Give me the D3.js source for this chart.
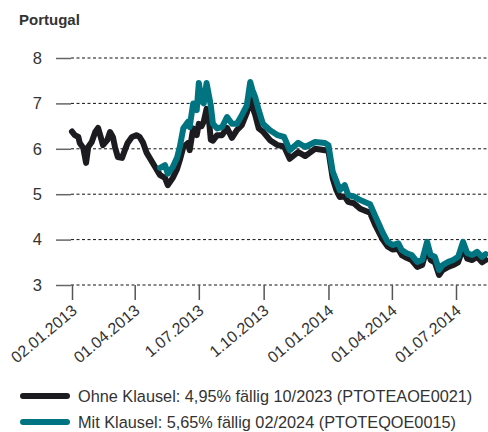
<!DOCTYPE html>
<html>
<head>
<meta charset="utf-8">
<script src="https://cdn.jsdelivr.net/npm/d3@7"></script>
<style>
  body { margin: 0; background: #fff; }
  text { font-family: "Liberation Sans", Arial, sans-serif; fill: #333; }
</style>
</head>
<body>
<script>
// Rendite in %, Ohne Klausel vs. Mit Klausel
const dates = [
  '2013-01-02', '2013-01-06', '2013-01-11', '2013-01-13', '2013-01-18', '2013-01-22',
  '2013-01-25', '2013-01-30', '2013-02-04', '2013-02-08', '2013-02-11', '2013-02-15',
  '2013-02-21', '2013-02-25', '2013-03-01', '2013-03-04', '2013-03-08', '2013-03-14',
  '2013-03-18', '2013-03-22', '2013-03-28', '2013-04-04', '2013-04-08', '2013-04-13',
  '2013-04-18', '2013-04-23', '2013-04-30', '2013-05-07', '2013-05-14', '2013-05-18',
  '2013-05-25', '2013-05-31', '2013-06-04', '2013-06-09', '2013-06-16', '2013-06-18',
  '2013-06-23', '2013-06-28', '2013-07-01', '2013-07-05', '2013-07-08', '2013-07-12',
  '2013-07-15', '2013-07-18', '2013-07-21', '2013-07-27', '2013-08-03', '2013-08-10',
  '2013-08-17', '2013-08-24', '2013-08-31', '2013-09-07', '2013-09-12', '2013-09-15',
  '2013-09-19', '2013-09-24', '2013-09-30', '2013-10-10', '2013-10-21', '2013-10-30',
  '2013-11-07', '2013-11-19', '2013-11-29', '2013-12-13', '2013-12-27', '2014-01-01',
  '2014-01-07', '2014-01-12', '2014-01-17', '2014-01-24', '2014-01-29', '2014-02-06',
  '2014-02-15', '2014-03-01', '2014-03-09', '2014-03-19', '2014-03-26', '2014-04-02',
  '2014-04-10', '2014-04-15', '2014-04-22', '2014-04-29', '2014-05-07', '2014-05-14',
  '2014-05-21', '2014-05-26', '2014-06-01', '2014-06-07', '2014-06-12', '2014-06-20',
  '2014-06-27', '2014-07-04', '2014-07-11', '2014-07-17', '2014-07-24', '2014-07-31',
  '2014-08-07', '2014-08-12'
];

const ohneKlausel = [
  6.38, 6.30, 6.26, 6.13, 6.02, 5.69,
  6.04, 6.15, 6.37, 6.46, 6.30, 6.08,
  6.19, 6.37, 6.26, 6.04, 5.82, 5.80,
  5.97, 6.13, 6.26, 6.30, 6.26, 6.13,
  5.91, 5.78, 5.60, 5.42, 5.36, 5.20,
  5.36, 5.55, 5.75, 6.04, 6.13, 5.97,
  6.45, 6.30, 6.55, 6.50, 6.60, 6.88,
  6.70, 6.20, 6.18, 6.30, 6.30, 6.46,
  6.24, 6.41, 6.52, 6.79, 7.10, 6.92,
  6.75, 6.45, 6.38, 6.19, 6.08, 6.05,
  5.78, 5.93, 5.84, 6.00, 5.97, 5.95,
  5.35, 5.10, 4.94, 4.95, 4.83, 4.80,
  4.68, 4.59, 4.30, 4.00, 3.85, 3.78,
  3.80, 3.66, 3.60, 3.55, 3.40, 3.44,
  3.82, 3.55, 3.50, 3.22, 3.33, 3.40,
  3.44, 3.50, 3.82, 3.58, 3.55, 3.62,
  3.50, 3.55
];

const mitKlausel = [
  null, null, null, null, null, null,
  null, null, null, null, null, null,
  null, null, null, null, null, null,
  null, null, null, null, null, null,
  null, null, null, 5.58, 5.64, 5.45,
  5.60, 5.80, 6.04, 6.45, 6.60, 6.48,
  7.00, 6.85, 7.45, 7.05, 7.00, 7.45,
  7.20, 6.95, 6.55, 6.45, 6.48, 6.70,
  6.55, 6.55, 6.74, 6.95, 7.47, 7.30,
  7.14, 6.85, 6.55, 6.41, 6.30, 6.26,
  5.97, 6.13, 6.04, 6.15, 6.13, 6.08,
  5.50, 5.30, 5.09, 5.20, 4.98, 4.95,
  4.87, 4.78, 4.50, 4.15, 3.95, 3.88,
  3.92, 3.77, 3.70, 3.66, 3.51, 3.55,
  3.95, 3.66, 3.62, 3.33, 3.44, 3.51,
  3.55, 3.62, 3.95, 3.70, 3.66, 3.73,
  3.62, 3.68
];

const yTicks = [3, 4, 5, 6, 7, 8];
const xTicks = ['2013-01-02', '2013-04-01', '2013-07-01', '2013-10-01', '2014-01-01', '2014-04-01', '2014-07-01'];
const xTickLabels = ['02.01.2013', '01.04.2013', '1.07.2013', '1.10.2013', '01.01.2014', '01.04.2014', '01.07.2014'];

const seriesNames = [
  'Ohne Klausel: 4,95% fällig 10/2023 (PTOTEAOE0021)',
  'Mit Klausel: 5,65% fällig 02/2024 (PTOTEQOE0015)'
];
const colors = ['#1c1b20', '#007480'];

const width = 488;
const height = 432;
const margin = { top: 58, right: 0, bottom: 147, left: 71 };

const parse = d3.timeParse('%Y-%m-%d');

const svg = d3.select('body').append('svg')
    .attr('width', width)
    .attr('height', height);

svg.append('text')
    .attr('x', 19)
    .attr('y', 25)
    .style('font-weight', 'bold')
    .style('font-size', '15px')
    .text('Portugal');

const x = d3.scaleTime()
  .domain([parse('2013-01-02'), parse('2014-07-01')])
  .range([margin.left + 1, 456]);

const y = d3.scaleLinear()
  .domain([3, 8])
  .range([height - margin.bottom, margin.top]);

// gridlines
svg.append('g')
  .selectAll('line')
  .data(yTicks)
  .join('line')
    .attr('x1', margin.left)
    .attr('x2', width)
    .attr('y1', d => y(d))
    .attr('y2', d => y(d))
    .attr('stroke', '#111')
    .attr('stroke-width', 1)
    .attr('stroke-dasharray', '3,2.5');

// y axis
const yAxis = d3.axisLeft(y)
  .tickValues(yTicks)
  .tickFormat(d3.format('d'))
  .tickSize(15)
  .tickPadding(14);

svg.append('g')
    .attr('transform', `translate(${margin.left}, 0)`)
    .call(yAxis)
    .call(g => g.select('.domain').remove())
    .call(g => g.selectAll('.tick line').attr('stroke', '#666').attr('stroke-width', 1.5))
    .call(g => g.selectAll('.tick text')
      .style('font-size', '16.5px')
      .style('font-family', '"Liberation Sans", Arial, sans-serif')
      .attr('fill', '#333'));

// x axis
const xAxis = d3.axisBottom(x)
  .tickValues(xTicks.map(parse))
  .tickSize(15)
  .tickFormat((d, i) => xTickLabels[i]);

svg.append('g')
    .attr('transform', `translate(0, ${y(3)})`)
    .call(xAxis)
    .call(g => g.select('.domain').remove())
    .call(g => g.selectAll('.tick line').attr('stroke', '#555').attr('stroke-width', 1.5))
    .call(g => g.selectAll('.tick text')
      .style('font-size', '16px')
      .style('font-family', '"Liberation Sans", Arial, sans-serif')
      .attr('fill', '#333')
      .attr('text-anchor', 'end')
      .attr('x', 0)
      .attr('y', 0)
      .attr('dy', '0.35em')
      .attr('transform', 'translate(2, 23) rotate(-40)'));

// lines
const rows = dates.map((d, i) => ({ date: parse(d), v: [ohneKlausel[i], mitKlausel[i]] }));

[0, 1].forEach(k => {
  const line = d3.line()
    .defined(d => d.v[k] != null)
    .x(d => x(d.date))
    .y(d => y(d.v[k]))
    .curve(d3.curveLinear);

  svg.append('path')
      .datum(rows)
      .attr('fill', 'none')
      .attr('stroke', colors[k])
      .attr('stroke-width', 6)
      .attr('stroke-linejoin', 'round')
      .attr('stroke-linecap', 'round')
      .attr('d', line);
});

// legend
const legend = svg.append('g')
  .selectAll('g')
  .data(seriesNames)
  .join('g')
    .attr('transform', (d, i) => `translate(0, ${396 + i * 26})`);

legend.append('line')
    .attr('x1', 23)
    .attr('x2', 67)
    .attr('stroke', (d, i) => colors[i])
    .attr('stroke-width', 6)
    .attr('stroke-linecap', 'round');

legend.append('text')
    .attr('x', 78)
    .attr('y', 6)
    .style('font-size', '16.3px')
    .text(d => d);
</script>
</body>
</html>
